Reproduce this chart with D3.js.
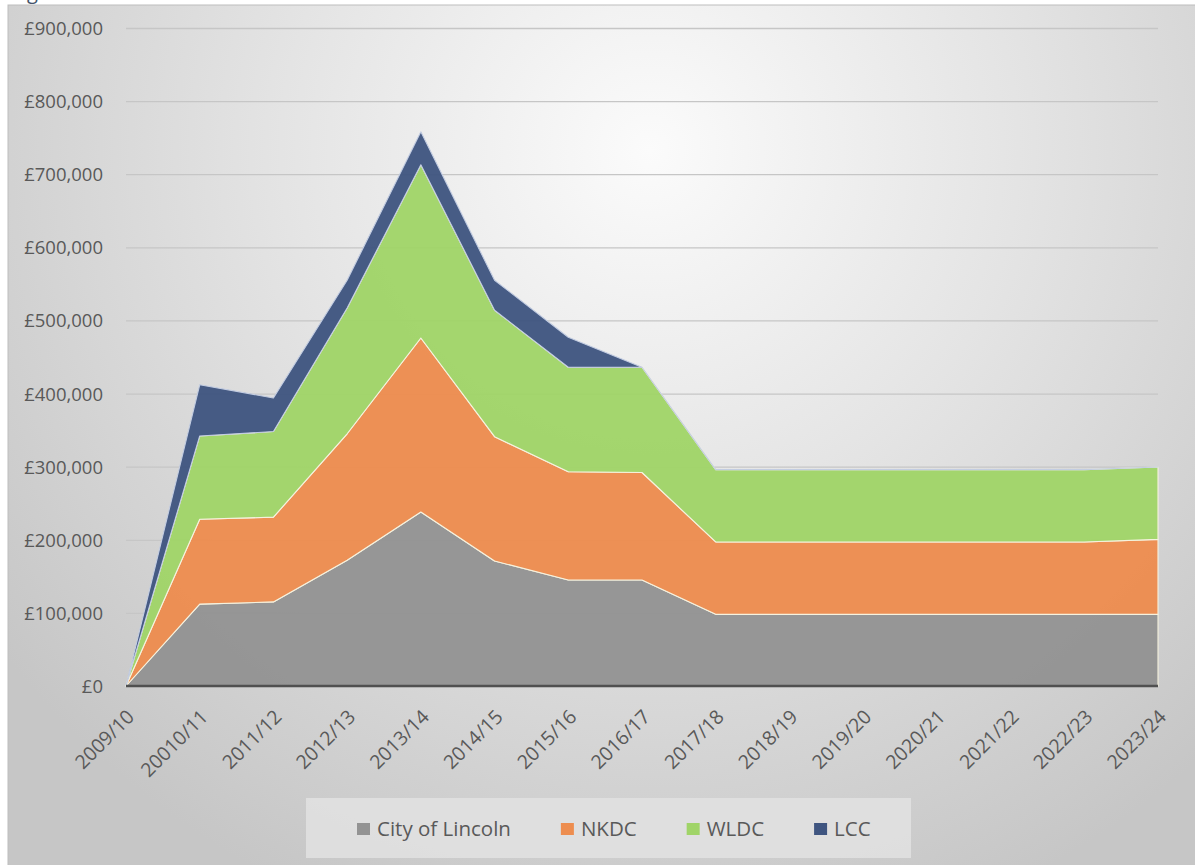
<!DOCTYPE html>
<html>
<head>
<meta charset="utf-8">
<script src="https://cdn.jsdelivr.net/npm/d3@7"></script>
<style>
  html, body { margin: 0; padding: 0; background: #ffffff; }
  svg { display: block; }
  text { font-family: "Open Sans", "Noto Sans", sans-serif; }
</style>
</head>
<body>
<svg id="chart" width="1195" height="865"></svg>
<script>
// ---- data ----
const categories = ["2009/10","20010/11","2011/12","2012/13","2013/14","2014/15","2015/16","2016/17","2017/18","2018/19","2019/20","2020/21","2021/22","2022/23","2023/24"];
const cityOfLincoln = [0, 112000, 115000, 172000, 238000, 171000, 145000, 145000, 98000, 98000, 98000, 98000, 98000, 98000, 98000];
const nkdc          = [0, 116000, 116000, 173000, 238000, 170000, 148000, 147000, 99000, 99000, 99000, 99000, 99000, 99000, 102500];
const wldc          = [0, 114000, 117000, 172000, 237000, 173000, 143000, 144000, 99000, 99000, 99000, 99000, 99000, 99000, 99000];
const lcc           = [0, 70000, 46000, 38000, 45000, 41000, 41000, 0, 0, 0, 0, 0, 0, 0, 0];
const seriesNames = ["City of Lincoln", "NKDC", "WLDC", "LCC"];
const seriesColors = ["#939393", "#ed8d4f", "#a0d468", "#3f5580"];
const yTicks = [0, 100000, 200000, 300000, 400000, 500000, 600000, 700000, 800000, 900000];

// ---- setup ----
const svg = d3.select("#chart");
const W = 1195, H = 865;
const plot = { left: 126, right: 1158, top: 28, bottom: 686 };

const defs = svg.append("defs");
const grad = defs.append("radialGradient")
  .attr("id", "bg").attr("gradientUnits", "userSpaceOnUse")
  .attr("cx", 650).attr("cy", 150).attr("r", 820);
grad.append("stop").attr("offset", 0).attr("stop-color", "#fbfbfb");
grad.append("stop").attr("offset", 0.45).attr("stop-color", "#e4e4e4");
grad.append("stop").attr("offset", 1).attr("stop-color", "#c6c6c6");

// clipped title fragment (only its descender shows in the reference)
svg.append("text").attr("x", 27).attr("y", -1)
  .attr("font-size", 20).attr("fill", "#44546a").text("g");

// frame
svg.append("rect").attr("x", 8).attr("y", 5).attr("width", W).attr("height", H)
  .attr("fill", "url(#bg)").attr("stroke", "#bdbdbd").attr("stroke-width", 1);

const x = d3.scalePoint().domain(categories).range([plot.left, plot.right]);
const y = d3.scaleLinear().domain([0, 900000]).range([plot.bottom, plot.top]);

// gridlines
const grid = d3.axisLeft(y).tickValues(yTicks).tickSize(-(plot.right - plot.left)).tickFormat("");
svg.append("g").attr("transform", `translate(${plot.left},0)`).call(grid)
  .call(g => g.select(".domain").remove())
  .call(g => g.selectAll("line").attr("stroke", "#c6c6c6").attr("stroke-width", 1.3));

// y labels
const yAxis = d3.axisLeft(y).tickValues(yTicks).tickSize(0).tickPadding(0)
  .tickFormat(d => "£" + d3.format(",")(d));
svg.append("g").attr("transform", `translate(103,0)`).call(yAxis)
  .call(g => g.select(".domain").remove())
  .call(g => g.selectAll("text").attr("font-size", 18.5).attr("fill", "#595959")
    .attr("font-family", "Open Sans").attr("dy", "0.35em"));

// stacked areas
const rows = categories.map((c, i) => ({
  cat: c,
  "City of Lincoln": cityOfLincoln[i],
  "NKDC": nkdc[i],
  "WLDC": wldc[i],
  "LCC": lcc[i]
}));
const stack = d3.stack().keys(seriesNames);
const layers = stack(rows);
const area = d3.area()
  .x(d => x(d.data.cat))
  .y0(d => y(d[0]))
  .y1(d => y(d[1]));

svg.append("g").selectAll("path").data(layers).join("path")
  .attr("d", area)
  .attr("fill", (d, i) => seriesColors[i])
  .attr("fill-opacity", 0.96)
  .attr("stroke", (d, i) => i === 3 ? "#c3cde2" : "#f6f2de")
  .attr("stroke-width", 1.1)
  .attr("stroke-linejoin", "round");

// x axis line
svg.append("line").attr("x1", plot.left).attr("x2", plot.right)
  .attr("y1", plot.bottom).attr("y2", plot.bottom)
  .attr("stroke", "#505050").attr("stroke-width", 2.5);

// x labels
const xAxis = d3.axisBottom(x).tickSize(0).tickPadding(0);
svg.append("g").attr("transform", `translate(0,${plot.bottom})`).call(xAxis)
  .call(g => g.select(".domain").remove())
  .call(g => g.selectAll("text")
    .attr("font-size", 19.5).attr("fill", "#595959").attr("font-family", "Open Sans")
    .attr("text-anchor", "end").attr("dy", 0).attr("y", 0)
    .attr("transform", "translate(9,32) rotate(-45)"));

// legend
const legend = svg.append("g");
legend.append("rect").attr("x", 306).attr("y", 798).attr("width", 605).attr("height", 60)
  .attr("fill", "#e2e2e2").attr("fill-opacity", 0.85);
let lx = 357;
seriesNames.forEach((name, i) => {
  legend.append("rect").attr("x", lx).attr("y", 823).attr("width", 13).attr("height", 12)
    .attr("fill", seriesColors[i]);
  const t = legend.append("text").attr("x", lx + 20).attr("y", 836)
    .attr("font-size", 20.5).attr("fill", "#595959").text(name);
  lx += 20 + t.node().getComputedTextLength() + 50;
});
</script>
</body>
</html>
